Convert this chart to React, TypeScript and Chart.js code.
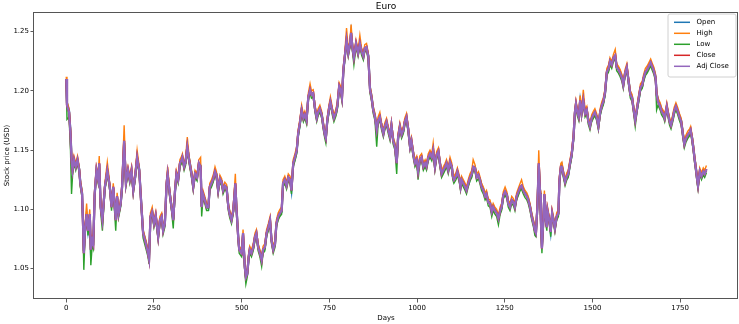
import React, { useEffect, useRef } from "react";
import { Chart, registerables } from "chart.js";

Chart.register(...registerables);

const days = [
  0, 2, 8, 12, 15, 18, 22, 27, 32, 37,
  40, 45, 48, 50, 54, 58, 62, 67, 70, 74,
  77, 81, 86, 91, 94, 98, 103, 110, 117, 124,
  129, 134, 141, 145, 149, 155, 159, 165, 170, 176,
  181, 186, 191, 196, 202, 208, 213, 219, 227, 233,
  236, 240, 245, 250, 255, 262, 267, 272, 276, 281,
  286, 289, 295, 300, 305, 310, 314, 319, 324, 329,
  331, 336, 340, 345, 350, 357, 362, 367, 373, 378,
  383, 386, 390, 395, 400, 405, 409, 414, 419, 424,
  428, 433, 438, 443, 447, 452, 457, 462, 466, 471,
  476, 482, 485, 490, 493, 500, 504, 509, 512, 516,
  520, 523, 528, 533, 538, 542, 547, 552, 557, 561,
  566, 571, 576, 581,
  585, 590, 595, 599, 604, 609, 614, 618, 623, 628,
  633, 638, 642, 647, 652, 657, 661, 666, 671, 676,
  680, 685, 690, 695, 699, 704, 709, 714, 718, 723,
  728, 733, 737, 740, 744, 750, 753, 759, 763, 769,
  773, 778, 782, 786, 790, 794, 799, 804, 809, 812,
  816, 820, 826, 832, 837, 842, 847, 851, 856, 861,
  866, 870, 875, 880, 885, 889, 894, 899, 904, 908,
  913, 918, 923, 927, 932, 937, 942, 946, 951, 956,
  961, 965, 970, 975, 980, 984, 989, 994, 999, 1003,
  1008, 1013, 1018, 1023, 1027, 1032, 1037,
  1042, 1046, 1051, 1056, 1061, 1065, 1070, 1075, 1080, 1084,
  1089, 1094, 1099, 1102, 1105, 1111, 1115, 1121, 1124, 1127,
  1132, 1137, 1141, 1146, 1151, 1156, 1160, 1165, 1170, 1175,
  1179, 1184, 1189, 1194, 1198, 1203, 1208, 1213, 1217, 1222,
  1227, 1232, 1237, 1241, 1246, 1251, 1256, 1260, 1265, 1270,
  1275, 1279, 1284, 1289, 1294, 1298, 1303, 1308, 1313, 1317,
  1322, 1327, 1332, 1336, 1339, 1343, 1347, 1351, 1353, 1356,
  1360, 1363, 1367, 1370, 1372, 1377, 1381, 1385, 1389, 1393,
  1398, 1403, 1406, 1410, 1413, 1417, 1422, 1427, 1431, 1436,
  1441, 1446, 1450, 1453, 1457, 1461, 1465, 1469, 1474, 1479,
  1484, 1488, 1493, 1498, 1503, 1507, 1512, 1517, 1522, 1527,
  1531, 1536, 1541, 1546, 1550, 1555, 1560, 1565, 1569, 1574,
  1579,
  1584, 1588, 1593, 1598, 1603, 1608, 1613, 1617, 1622, 1627,
  1632, 1637, 1642, 1646, 1651, 1656, 1661, 1666, 1671, 1675,
  1680, 1683, 1687, 1693, 1697, 1703, 1706, 1712, 1716, 1720,
  1724, 1729, 1733, 1738, 1743, 1748, 1753, 1758, 1762, 1767,
  1772, 1777, 1780, 1784, 1788, 1791, 1795, 1799, 1801, 1806,
  1811, 1816, 1820, 1825,
];

const closePrice = [
  1.210, 1.188, 1.182, 1.164, 1.141, 1.133, 1.142, 1.136, 1.142, 1.133,
  1.122, 1.113, 1.085, 1.063, 1.085, 1.096, 1.082, 1.096, 1.066, 1.074,
  1.071, 1.113, 1.133, 1.125, 1.139, 1.102, 1.091, 1.119, 1.133, 1.119,
  1.102, 1.119, 1.091, 1.111, 1.096, 1.105, 1.119, 1.158, 1.122, 1.133,
  1.125, 1.133, 1.116, 1.127, 1.144, 1.133, 1.108, 1.080, 1.071, 1.063,
  1.058, 1.094, 1.098, 1.088, 1.095, 1.077, 1.091, 1.094, 1.082, 1.088,
  1.122, 1.130, 1.113, 1.102, 1.091, 1.116, 1.130, 1.125, 1.139, 1.142,
  1.144, 1.136, 1.140, 1.153, 1.142, 1.130, 1.119, 1.130, 1.127, 1.139,
  1.136, 1.102, 1.113, 1.108, 1.102, 1.102, 1.119, 1.122, 1.126, 1.132,
  1.129, 1.116, 1.126, 1.123, 1.116, 1.120, 1.118, 1.102, 1.096, 1.091,
  1.099, 1.122, 1.102, 1.077, 1.066, 1.063, 1.080, 1.051, 1.043, 1.046,
  1.060, 1.066, 1.063, 1.068, 1.077, 1.080, 1.068, 1.063, 1.057, 1.066,
  1.068, 1.080, 1.085, 1.091,
  1.074, 1.066, 1.071, 1.088, 1.094, 1.097, 1.099, 1.122, 1.125, 1.120,
  1.127, 1.125, 1.116, 1.139, 1.144, 1.150, 1.164, 1.173, 1.184, 1.177,
  1.180, 1.175, 1.195, 1.201, 1.197, 1.198, 1.185, 1.177, 1.182, 1.185,
  1.180, 1.170, 1.163, 1.160, 1.175, 1.187, 1.191, 1.182, 1.177, 1.182,
  1.188, 1.204, 1.201, 1.194, 1.218, 1.229, 1.243, 1.232, 1.240, 1.249,
  1.236, 1.228, 1.240, 1.232, 1.240, 1.233, 1.229, 1.236, 1.237, 1.229,
  1.201, 1.195, 1.184, 1.178, 1.167, 1.175, 1.178, 1.170, 1.164, 1.170,
  1.174, 1.167, 1.161, 1.171, 1.158, 1.153, 1.139, 1.161, 1.170, 1.163,
  1.167, 1.174, 1.178, 1.167, 1.153, 1.158, 1.147, 1.139, 1.142, 1.132,
  1.142, 1.144, 1.136, 1.139, 1.136, 1.144, 1.147,
  1.144, 1.150, 1.136, 1.146, 1.149, 1.139, 1.130, 1.133, 1.136, 1.139,
  1.133, 1.140, 1.136, 1.128, 1.125, 1.128, 1.132, 1.125, 1.119, 1.125,
  1.122, 1.119, 1.116, 1.122, 1.127, 1.130, 1.136, 1.135, 1.127, 1.129,
  1.125, 1.119, 1.116, 1.111, 1.113, 1.106, 1.105, 1.098, 1.102, 1.099,
  1.097, 1.092, 1.099, 1.102, 1.112, 1.115, 1.112, 1.105, 1.102, 1.108,
  1.106, 1.102, 1.111, 1.115, 1.119, 1.120, 1.116, 1.113, 1.111, 1.108,
  1.102, 1.094, 1.088, 1.082, 1.080, 1.102, 1.139, 1.113, 1.091, 1.067,
  1.091, 1.113, 1.091, 1.085, 1.099, 1.091, 1.081, 1.097, 1.091, 1.084,
  1.094, 1.097, 1.125, 1.136, 1.136, 1.130, 1.123, 1.128, 1.130, 1.139,
  1.147, 1.161, 1.182, 1.189, 1.182, 1.178, 1.192, 1.181, 1.192, 1.181,
  1.184, 1.175, 1.170, 1.177, 1.180, 1.182, 1.178, 1.170, 1.182, 1.188,
  1.191, 1.199, 1.216, 1.219, 1.225, 1.222, 1.228, 1.230, 1.220, 1.218,
  1.215,
  1.211, 1.205, 1.215, 1.220, 1.208, 1.197, 1.194, 1.185, 1.175, 1.185,
  1.194, 1.203, 1.205, 1.211, 1.216, 1.218, 1.221, 1.224, 1.220, 1.217,
  1.211, 1.197, 1.191, 1.187, 1.183, 1.180, 1.177, 1.187, 1.180, 1.174,
  1.171, 1.177, 1.183, 1.187, 1.183, 1.178, 1.174, 1.163, 1.155, 1.160,
  1.163, 1.165, 1.167, 1.160, 1.151, 1.143, 1.134, 1.124, 1.120, 1.132,
  1.128, 1.132, 1.130, 1.134,
];

const adjClosePrice = [
  1.210, 1.188, 1.182, 1.164, 1.141, 1.133, 1.142, 1.136, 1.142, 1.133,
  1.122, 1.113, 1.085, 1.063, 1.085, 1.096, 1.082, 1.096, 1.066, 1.074,
  1.071, 1.113, 1.133, 1.125, 1.139, 1.102, 1.091, 1.119, 1.133, 1.119,
  1.102, 1.119, 1.091, 1.111, 1.096, 1.105, 1.119, 1.158, 1.122, 1.133,
  1.125, 1.133, 1.116, 1.127, 1.144, 1.133, 1.108, 1.080, 1.071, 1.063,
  1.058, 1.094, 1.098, 1.088, 1.095, 1.077, 1.091, 1.094, 1.082, 1.088,
  1.122, 1.130, 1.113, 1.102, 1.091, 1.116, 1.130, 1.125, 1.139, 1.142,
  1.144, 1.136, 1.140, 1.153, 1.142, 1.130, 1.119, 1.130, 1.127, 1.139,
  1.136, 1.102, 1.113, 1.108, 1.102, 1.102, 1.119, 1.122, 1.126, 1.132,
  1.129, 1.116, 1.126, 1.123, 1.116, 1.120, 1.118, 1.102, 1.096, 1.091,
  1.099, 1.122, 1.102, 1.077, 1.066, 1.063, 1.080, 1.051, 1.043, 1.046,
  1.060, 1.066, 1.063, 1.068, 1.077, 1.080, 1.068, 1.063, 1.057, 1.066,
  1.068, 1.080, 1.085, 1.091,
  1.074, 1.066, 1.071, 1.088, 1.094, 1.097, 1.099, 1.122, 1.125, 1.120,
  1.127, 1.125, 1.116, 1.139, 1.144, 1.150, 1.164, 1.173, 1.184, 1.177,
  1.180, 1.175, 1.195, 1.201, 1.197, 1.198, 1.185, 1.177, 1.182, 1.185,
  1.180, 1.170, 1.163, 1.160, 1.175, 1.187, 1.191, 1.182, 1.177, 1.182,
  1.188, 1.204, 1.201, 1.194, 1.218, 1.229, 1.243, 1.232, 1.240, 1.249,
  1.236, 1.228, 1.240, 1.232, 1.240, 1.233, 1.229, 1.236, 1.237, 1.229,
  1.201, 1.195, 1.184, 1.178, 1.167, 1.175, 1.178, 1.170, 1.164, 1.170,
  1.174, 1.167, 1.161, 1.171, 1.158, 1.153, 1.139, 1.161, 1.170, 1.163,
  1.167, 1.174, 1.178, 1.167, 1.153, 1.158, 1.147, 1.139, 1.142, 1.132,
  1.142, 1.144, 1.136, 1.139, 1.136, 1.144, 1.147,
  1.144, 1.150, 1.136, 1.146, 1.149, 1.139, 1.130, 1.133, 1.136, 1.139,
  1.133, 1.140, 1.136, 1.128, 1.125, 1.128, 1.132, 1.125, 1.119, 1.125,
  1.122, 1.119, 1.116, 1.122, 1.127, 1.130, 1.136, 1.135, 1.127, 1.129,
  1.125, 1.119, 1.116, 1.111, 1.113, 1.106, 1.105, 1.098, 1.102, 1.099,
  1.097, 1.092, 1.099, 1.102, 1.112, 1.115, 1.112, 1.105, 1.102, 1.108,
  1.106, 1.102, 1.111, 1.115, 1.119, 1.120, 1.116, 1.113, 1.111, 1.108,
  1.102, 1.094, 1.088, 1.082, 1.080, 1.102, 1.139, 1.113, 1.091, 1.067,
  1.091, 1.113, 1.091, 1.085, 1.099, 1.091, 1.081, 1.097, 1.091, 1.084,
  1.094, 1.097, 1.125, 1.136, 1.136, 1.130, 1.123, 1.128, 1.130, 1.139,
  1.147, 1.161, 1.182, 1.189, 1.182, 1.178, 1.192, 1.181, 1.192, 1.181,
  1.184, 1.175, 1.170, 1.177, 1.180, 1.182, 1.178, 1.170, 1.182, 1.188,
  1.191, 1.199, 1.216, 1.219, 1.225, 1.222, 1.228, 1.230, 1.220, 1.218,
  1.215,
  1.211, 1.205, 1.215, 1.220, 1.208, 1.197, 1.194, 1.185, 1.175, 1.185,
  1.194, 1.203, 1.205, 1.211, 1.216, 1.218, 1.221, 1.224, 1.220, 1.217,
  1.211, 1.197, 1.191, 1.187, 1.183, 1.180, 1.177, 1.187, 1.180, 1.174,
  1.171, 1.177, 1.183, 1.187, 1.183, 1.178, 1.174, 1.163, 1.155, 1.160,
  1.163, 1.165, 1.167, 1.160, 1.151, 1.143, 1.134, 1.124, 1.120, 1.132,
  1.128, 1.132, 1.130, 1.134,
];

const openPrice = [
  1.210, 1.190, 1.183, 1.166, 1.143, 1.134, 1.141, 1.137, 1.141, 1.134,
  1.123, 1.114, 1.087, 1.065, 1.084, 1.095, 1.083, 1.095, 1.067, 1.073,
  1.072, 1.112, 1.132, 1.126, 1.138, 1.103, 1.092, 1.118, 1.132, 1.120,
  1.103, 1.118, 1.092, 1.110, 1.097, 1.104, 1.118, 1.156, 1.123, 1.132,
  1.126, 1.132, 1.117, 1.126, 1.143, 1.134, 1.109, 1.081, 1.072, 1.064,
  1.059, 1.093, 1.097, 1.089, 1.094, 1.078, 1.090, 1.093, 1.083, 1.087,
  1.121, 1.129, 1.114, 1.103, 1.092, 1.115, 1.129, 1.126, 1.138, 1.141,
  1.143, 1.137, 1.139, 1.152, 1.143, 1.131, 1.120, 1.129, 1.128, 1.138,
  1.137, 1.103, 1.112, 1.109, 1.103, 1.101, 1.118, 1.121, 1.125, 1.131,
  1.130, 1.117, 1.125, 1.124, 1.117, 1.119, 1.119, 1.103, 1.097, 1.092,
  1.098, 1.121, 1.103, 1.078, 1.067, 1.064, 1.079, 1.052, 1.044, 1.045,
  1.059, 1.065, 1.064, 1.067, 1.076, 1.079, 1.069, 1.064, 1.058, 1.065,
  1.067, 1.079, 1.084, 1.090,
  1.075, 1.067, 1.070, 1.087, 1.093, 1.096, 1.098, 1.121, 1.124, 1.121,
  1.126, 1.126, 1.117, 1.138, 1.143, 1.149, 1.163, 1.172, 1.183, 1.178,
  1.179, 1.176, 1.194, 1.200, 1.198, 1.197, 1.186, 1.178, 1.181, 1.184,
  1.181, 1.171, 1.164, 1.161, 1.174, 1.186, 1.190, 1.183, 1.178, 1.181,
  1.187, 1.203, 1.202, 1.195, 1.217, 1.228, 1.242, 1.233, 1.239, 1.248,
  1.237, 1.229, 1.239, 1.233, 1.239, 1.234, 1.230, 1.235, 1.236, 1.230,
  1.202, 1.196, 1.185, 1.179, 1.168, 1.174, 1.177, 1.171, 1.165, 1.169,
  1.173, 1.168, 1.162, 1.170, 1.159, 1.154, 1.140, 1.160, 1.169, 1.164,
  1.166, 1.173, 1.177, 1.168, 1.154, 1.157, 1.148, 1.140, 1.141, 1.133,
  1.141, 1.143, 1.137, 1.138, 1.137, 1.143, 1.146,
  1.145, 1.149, 1.137, 1.145, 1.148, 1.140, 1.131, 1.132, 1.135, 1.138,
  1.134, 1.139, 1.137, 1.129, 1.126, 1.127, 1.131, 1.126, 1.120, 1.124,
  1.123, 1.120, 1.117, 1.121, 1.126, 1.129, 1.135, 1.136, 1.128, 1.128,
  1.126, 1.120, 1.117, 1.112, 1.112, 1.107, 1.106, 1.099, 1.101, 1.100,
  1.098, 1.093, 1.098, 1.101, 1.111, 1.114, 1.113, 1.106, 1.103, 1.107,
  1.107, 1.103, 1.110, 1.114, 1.118, 1.119, 1.117, 1.114, 1.112, 1.109,
  1.103, 1.095, 1.089, 1.083, 1.081, 1.101, 1.137, 1.114, 1.092, 1.068,
  1.090, 1.112, 1.092, 1.086, 1.098, 1.092, 1.082, 1.096, 1.092, 1.085,
  1.093, 1.096, 1.124, 1.135, 1.137, 1.131, 1.124, 1.127, 1.129, 1.138,
  1.146, 1.160, 1.181, 1.188, 1.183, 1.179, 1.191, 1.182, 1.191, 1.182,
  1.183, 1.176, 1.171, 1.176, 1.179, 1.181, 1.179, 1.171, 1.181, 1.187,
  1.190, 1.198, 1.215, 1.218, 1.224, 1.223, 1.227, 1.229, 1.221, 1.219,
  1.216,
  1.212, 1.206, 1.214, 1.219, 1.209, 1.198, 1.195, 1.186, 1.176, 1.184,
  1.193, 1.202, 1.204, 1.210, 1.215, 1.217, 1.220, 1.223, 1.221, 1.218,
  1.212, 1.198, 1.192, 1.188, 1.184, 1.181, 1.178, 1.186, 1.181, 1.175,
  1.172, 1.176, 1.182, 1.186, 1.184, 1.179, 1.175, 1.164, 1.156, 1.159,
  1.162, 1.164, 1.166, 1.161, 1.152, 1.144, 1.135, 1.125, 1.121, 1.131,
  1.129, 1.131, 1.131, 1.133,
];

const highPrice = [
  1.212, 1.191, 1.185, 1.168, 1.145, 1.136, 1.145, 1.139, 1.145, 1.136,
  1.125, 1.116, 1.088, 1.067, 1.089, 1.105, 1.085, 1.100, 1.069, 1.077,
  1.074, 1.116, 1.136, 1.128, 1.145, 1.105, 1.094, 1.122, 1.140, 1.122,
  1.105, 1.122, 1.094, 1.114, 1.099, 1.108, 1.122, 1.171, 1.125, 1.136,
  1.128, 1.136, 1.119, 1.130, 1.150, 1.136, 1.111, 1.083, 1.074, 1.066,
  1.061, 1.097, 1.102, 1.091, 1.098, 1.080, 1.094, 1.097, 1.085, 1.091,
  1.125, 1.136, 1.116, 1.105, 1.094, 1.119, 1.133, 1.128, 1.142, 1.145,
  1.147, 1.139, 1.143, 1.161, 1.145, 1.133, 1.122, 1.133, 1.130, 1.142,
  1.144, 1.105, 1.116, 1.111, 1.105, 1.105, 1.122, 1.125, 1.129, 1.136,
  1.132, 1.119, 1.129, 1.126, 1.119, 1.123, 1.121, 1.105, 1.099, 1.094,
  1.102, 1.130, 1.105, 1.080, 1.069, 1.066, 1.083, 1.054, 1.046, 1.049,
  1.063, 1.069, 1.066, 1.071, 1.080, 1.083, 1.071, 1.066, 1.060, 1.069,
  1.071, 1.083, 1.088, 1.094,
  1.077, 1.069, 1.074, 1.091, 1.097, 1.100, 1.102, 1.125, 1.128, 1.123,
  1.130, 1.128, 1.119, 1.142, 1.147, 1.153, 1.167, 1.176, 1.188, 1.180,
  1.183, 1.178, 1.198, 1.206, 1.200, 1.201, 1.188, 1.180, 1.185, 1.188,
  1.183, 1.173, 1.166, 1.163, 1.178, 1.190, 1.195, 1.185, 1.180, 1.185,
  1.191, 1.207, 1.204, 1.197, 1.221, 1.232, 1.253, 1.235, 1.243, 1.256,
  1.239, 1.231, 1.243, 1.235, 1.247, 1.236, 1.232, 1.239, 1.240, 1.232,
  1.204, 1.198, 1.187, 1.181, 1.170, 1.178, 1.182, 1.173, 1.167, 1.173,
  1.177, 1.170, 1.164, 1.174, 1.161, 1.156, 1.142, 1.164, 1.173, 1.166,
  1.170, 1.177, 1.181, 1.170, 1.156, 1.161, 1.150, 1.142, 1.145, 1.135,
  1.145, 1.147, 1.139, 1.142, 1.139, 1.147, 1.150,
  1.147, 1.156, 1.139, 1.149, 1.152, 1.142, 1.133, 1.136, 1.139, 1.142,
  1.136, 1.144, 1.139, 1.131, 1.128, 1.131, 1.135, 1.128, 1.122, 1.128,
  1.125, 1.122, 1.119, 1.125, 1.130, 1.133, 1.142, 1.138, 1.130, 1.132,
  1.128, 1.122, 1.119, 1.114, 1.116, 1.109, 1.108, 1.101, 1.105, 1.102,
  1.100, 1.095, 1.102, 1.105, 1.115, 1.119, 1.115, 1.108, 1.105, 1.111,
  1.109, 1.105, 1.114, 1.118, 1.122, 1.125, 1.119, 1.116, 1.114, 1.111,
  1.105, 1.097, 1.091, 1.085, 1.083, 1.108, 1.150, 1.116, 1.094, 1.070,
  1.094, 1.116, 1.094, 1.088, 1.102, 1.094, 1.084, 1.100, 1.094, 1.087,
  1.097, 1.100, 1.128, 1.139, 1.140, 1.133, 1.126, 1.131, 1.133, 1.142,
  1.150, 1.164, 1.185, 1.192, 1.185, 1.181, 1.196, 1.184, 1.201, 1.184,
  1.187, 1.178, 1.173, 1.180, 1.183, 1.185, 1.181, 1.173, 1.185, 1.191,
  1.194, 1.202, 1.219, 1.222, 1.228, 1.225, 1.231, 1.235, 1.223, 1.221,
  1.218,
  1.214, 1.208, 1.218, 1.223, 1.211, 1.200, 1.197, 1.188, 1.178, 1.188,
  1.197, 1.206, 1.208, 1.214, 1.219, 1.221, 1.224, 1.227, 1.223, 1.220,
  1.214, 1.200, 1.194, 1.190, 1.186, 1.183, 1.180, 1.190, 1.183, 1.177,
  1.174, 1.180, 1.186, 1.190, 1.186, 1.181, 1.177, 1.166, 1.158, 1.163,
  1.166, 1.168, 1.170, 1.163, 1.154, 1.146, 1.137, 1.127, 1.123, 1.135,
  1.131, 1.135, 1.133, 1.137,
];

const lowPrice = [
  1.207, 1.176, 1.178, 1.150, 1.113, 1.129, 1.139, 1.133, 1.139, 1.130,
  1.119, 1.110, 1.080, 1.049, 1.081, 1.092, 1.078, 1.092, 1.053, 1.070,
  1.067, 1.110, 1.130, 1.122, 1.135, 1.098, 1.082, 1.116, 1.130, 1.116,
  1.099, 1.116, 1.082, 1.108, 1.093, 1.102, 1.116, 1.150, 1.119, 1.130,
  1.122, 1.130, 1.113, 1.124, 1.140, 1.130, 1.105, 1.076, 1.067, 1.060,
  1.054, 1.091, 1.095, 1.085, 1.092, 1.074, 1.088, 1.091, 1.079, 1.085,
  1.119, 1.127, 1.110, 1.099, 1.084, 1.113, 1.127, 1.122, 1.136, 1.139,
  1.141, 1.133, 1.137, 1.149, 1.139, 1.127, 1.116, 1.127, 1.124, 1.136,
  1.133, 1.094, 1.110, 1.105, 1.099, 1.099, 1.116, 1.119, 1.123, 1.129,
  1.126, 1.113, 1.123, 1.120, 1.113, 1.117, 1.115, 1.099, 1.093, 1.088,
  1.096, 1.119, 1.099, 1.074, 1.063, 1.060, 1.077, 1.047, 1.037, 1.043,
  1.057, 1.063, 1.060, 1.065, 1.074, 1.077, 1.065, 1.060, 1.052, 1.063,
  1.065, 1.077, 1.082, 1.088,
  1.071, 1.063, 1.068, 1.085, 1.091, 1.094, 1.096, 1.119, 1.122, 1.117,
  1.124, 1.122, 1.113, 1.136, 1.141, 1.147, 1.161, 1.170, 1.181, 1.174,
  1.177, 1.172, 1.192, 1.198, 1.194, 1.195, 1.182, 1.174, 1.179, 1.182,
  1.177, 1.167, 1.160, 1.156, 1.172, 1.184, 1.188, 1.179, 1.174, 1.179,
  1.185, 1.201, 1.198, 1.191, 1.215, 1.226, 1.240, 1.229, 1.237, 1.246,
  1.233, 1.222, 1.237, 1.229, 1.237, 1.230, 1.226, 1.233, 1.234, 1.226,
  1.198, 1.192, 1.181, 1.175, 1.153, 1.172, 1.175, 1.167, 1.161, 1.167,
  1.171, 1.164, 1.158, 1.168, 1.155, 1.150, 1.130, 1.158, 1.167, 1.160,
  1.164, 1.171, 1.175, 1.164, 1.150, 1.155, 1.144, 1.136, 1.139, 1.125,
  1.139, 1.141, 1.133, 1.136, 1.133, 1.141, 1.144,
  1.141, 1.147, 1.133, 1.143, 1.146, 1.136, 1.127, 1.130, 1.133, 1.136,
  1.130, 1.137, 1.133, 1.125, 1.122, 1.125, 1.129, 1.122, 1.116, 1.122,
  1.119, 1.116, 1.113, 1.119, 1.124, 1.127, 1.133, 1.132, 1.124, 1.126,
  1.122, 1.116, 1.113, 1.108, 1.110, 1.103, 1.102, 1.094, 1.099, 1.096,
  1.094, 1.087, 1.096, 1.099, 1.109, 1.112, 1.109, 1.102, 1.099, 1.105,
  1.103, 1.099, 1.108, 1.112, 1.116, 1.117, 1.113, 1.110, 1.108, 1.105,
  1.099, 1.091, 1.085, 1.078, 1.077, 1.099, 1.133, 1.110, 1.088, 1.063,
  1.088, 1.110, 1.088, 1.082, 1.096, 1.088, 1.077, 1.094, 1.088, 1.081,
  1.091, 1.094, 1.122, 1.133, 1.133, 1.127, 1.120, 1.125, 1.127, 1.136,
  1.144, 1.158, 1.179, 1.186, 1.179, 1.175, 1.189, 1.178, 1.189, 1.178,
  1.181, 1.172, 1.167, 1.174, 1.177, 1.179, 1.175, 1.167, 1.179, 1.185,
  1.188, 1.196, 1.213, 1.216, 1.222, 1.219, 1.225, 1.227, 1.217, 1.215,
  1.212,
  1.208, 1.202, 1.212, 1.217, 1.205, 1.194, 1.191, 1.182, 1.170, 1.182,
  1.191, 1.200, 1.202, 1.208, 1.213, 1.215, 1.218, 1.221, 1.217, 1.214,
  1.208, 1.184, 1.188, 1.184, 1.180, 1.177, 1.174, 1.184, 1.177, 1.171,
  1.168, 1.174, 1.180, 1.184, 1.180, 1.175, 1.171, 1.160, 1.152, 1.157,
  1.160, 1.162, 1.164, 1.157, 1.148, 1.140, 1.131, 1.121, 1.117, 1.129,
  1.125, 1.129, 1.127, 1.131,
];

const seriesNames = ["Open", "High", "Low", "Close", "Adj Close"];
const seriesColors = ["#1f77b4", "#ff7f0e", "#2ca02c", "#d62728", "#9467bd"];
const xTicks = [0, 250, 500, 750, 1000, 1250, 1500, 1750];
const yTicks = [1.05, 1.1, 1.15, 1.2, 1.25];
const chartTitle = "Euro";
const xTitle = "Days";
const yTitle = "Stock price (USD)";

const FONT = "'DejaVu Sans', sans-serif";

export default function App() {
  const ref = useRef<HTMLCanvasElement>(null);

  useEffect(() => {
    if (!ref.current) return;
    const series = [openPrice, highPrice, lowPrice, closePrice, adjClosePrice];

    const decor = {
      id: "decor",
      afterDraw(chart: any) {
        const { ctx, chartArea: a } = chart;
        ctx.save();
        ctx.strokeStyle = "#555";
        ctx.lineWidth = 1;
        ctx.strokeRect(Math.round(a.left) - 0.5, Math.round(a.top) + 0.5, Math.round(a.right - a.left), Math.round(a.bottom - a.top) - 1);
        ctx.fillStyle = "#000";
        ctx.font = `9px ${FONT}`;
        ctx.textAlign = "center";
        ctx.textBaseline = "alphabetic";
        ctx.fillText(chartTitle, (a.left + a.right) / 2, a.top - 3.5);
        const bx = a.right - 70;
        const by = a.top + 2;
        const bw = 68;
        const bh = 63;
        const r = 2;
        ctx.beginPath();
        ctx.moveTo(bx + r, by);
        ctx.lineTo(bx + bw - r, by);
        ctx.quadraticCurveTo(bx + bw, by, bx + bw, by + r);
        ctx.lineTo(bx + bw, by + bh - r);
        ctx.quadraticCurveTo(bx + bw, by + bh, bx + bw - r, by + bh);
        ctx.lineTo(bx + r, by + bh);
        ctx.quadraticCurveTo(bx, by + bh, bx, by + bh - r);
        ctx.lineTo(bx, by + r);
        ctx.quadraticCurveTo(bx, by, bx + r, by);
        ctx.closePath();
        ctx.fillStyle = "rgba(255,255,255,0.8)";
        ctx.fill();
        ctx.strokeStyle = "#d0d0d0";
        ctx.lineWidth = 1;
        ctx.stroke();
        ctx.font = `7px ${FONT}`;
        ctx.textAlign = "left";
        ctx.textBaseline = "middle";
        seriesNames.forEach((name, i) => {
          const y = by + 8.3 + i * 11;
          ctx.strokeStyle = seriesColors[i];
          ctx.lineWidth = 1.5;
          ctx.beginPath();
          ctx.moveTo(bx + 6, y);
          ctx.lineTo(bx + 22, y);
          ctx.stroke();
          ctx.fillStyle = "#000";
          ctx.fillText(name, bx + 28.5, y);
        });
        ctx.restore();
      },
    };

    const tickFont = { family: FONT, size: 7 };

    const chart = new Chart(ref.current, {
      type: "line",
      data: {
        datasets: series.map((vals, i) => ({
          label: seriesNames[i],
          data: days.map((d, j) => ({ x: d, y: vals[j] })),
          borderColor: seriesColors[i],
          backgroundColor: seriesColors[i],
          borderWidth: i === 1 || i === 2 ? 1.4 : 2.2,
          pointRadius: 0,
          fill: false,
          tension: 0,
          order: 5 - i,
        })),
      },
      options: {
        animation: false,
        responsive: false,
        devicePixelRatio: 1,
        events: [],
        layout: { padding: { left: 0, right: 1, top: 12, bottom: 0 } },
        plugins: {
          legend: { display: false },
          title: { display: false },
          tooltip: { enabled: false },
        },
        scales: {
          x: {
            type: "linear",
            min: -92,
            max: 1915,
            afterBuildTicks: (s: any) => {
              s.ticks = xTicks.map((v) => ({ value: v }));
            },
            afterFit: (s: any) => {
              s.height = 25;
            },
            ticks: {
              font: tickFont,
              color: "#000",
              padding: 1.5,
              maxRotation: 0,
              autoSkip: false,
              callback: (v: any) => String(v),
            },
            grid: {
              display: true,
              drawOnChartArea: false,
              drawTicks: true,
              tickLength: 3.5,
              tickColor: "#333",
              tickWidth: 0.8,
            },
            border: { display: false },
            title: {
              display: true,
              text: xTitle,
              font: tickFont,
              color: "#000",
              padding: { top: 0, bottom: 2 },
            },
          },
          y: {
            type: "linear",
            min: 1.0244,
            max: 1.2666,
            afterBuildTicks: (s: any) => {
              s.ticks = yTicks.map((v) => ({ value: v }));
            },
            afterFit: (s: any) => {
              s.width = 34;
            },
            ticks: {
              font: tickFont,
              color: "#000",
              padding: 1.5,
              autoSkip: false,
              callback: (v: any) => Number(v).toFixed(2),
            },
            grid: {
              display: true,
              drawOnChartArea: false,
              drawTicks: true,
              tickLength: 3.5,
              tickColor: "#333",
              tickWidth: 0.8,
            },
            border: { display: false },
            title: {
              display: true,
              text: yTitle,
              font: tickFont,
              color: "#000",
              padding: { top: 3, bottom: 0 },
            },
          },
        },
      },
      plugins: [decor],
    });

    return () => chart.destroy();
  }, []);

  return (
    <div style={{ position: "absolute", left: 0, top: 0, width: 739, height: 324, background: "#fff" }}>
      <canvas ref={ref} width={739} height={324} style={{ display: "block", width: 739, height: 324 }} />
    </div>
  );
}
